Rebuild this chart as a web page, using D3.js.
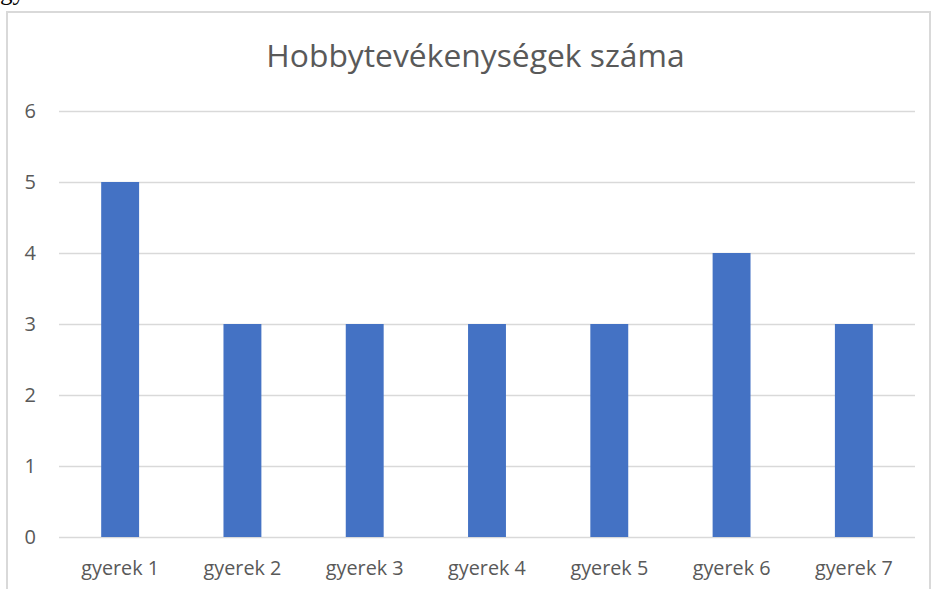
<!DOCTYPE html>
<html>
<head>
<meta charset="utf-8">
<script src="https://cdn.jsdelivr.net/npm/d3@7"></script>
<style>
  body { margin: 0; background: #fff; }
  svg { display: block; font-family: "Open Sans", sans-serif; }
</style>
</head>
<body>
<script>
const categories = ["gyerek 1", "gyerek 2", "gyerek 3", "gyerek 4", "gyerek 5", "gyerek 6", "gyerek 7"];
const values = [5, 3, 3, 3, 3, 4, 3];
const yTicks = [0, 1, 2, 3, 4, 5, 6];
const title = "Hobbytevékenységek száma";

const width = 931, height = 589;
const plot = { left: 59, right: 915, top: 111, bottom: 537 };

const svg = d3.select("body").append("svg")
    .attr("width", width)
    .attr("height", height);

svg.append("rect")
    .attr("width", width).attr("height", height)
    .attr("fill", "#fff");

// cut-off document text above the chart
svg.append("text")
    .attr("x", 0).attr("y", 0)
    .style("font-family", "'Liberation Serif', serif")
    .style("font-size", "25px")
    .attr("fill", "#000")
    .text("gyerekek");

// chart frame
svg.append("rect")
    .attr("x", 7).attr("y", 12)
    .attr("width", 923).attr("height", 620)
    .attr("fill", "#fff")
    .attr("stroke", "#d9d9d9")
    .attr("stroke-width", 2);

const x = d3.scaleBand()
    .domain(categories)
    .range([plot.left, plot.right])
    .paddingInner(0.69)
    .paddingOuter(0.345);

const y = d3.scaleLinear()
    .domain([0, 6])
    .range([plot.bottom, plot.top]);

// gridlines + y labels
const yAxis = svg.append("g")
    .attr("transform", `translate(${plot.left},0)`)
    .call(d3.axisLeft(y)
        .tickValues(yTicks)
        .tickSize(-(plot.right - plot.left))
        .tickPadding(23)
        .tickFormat(d3.format("d")));
yAxis.select(".domain").remove();
yAxis.selectAll(".tick line")
    .attr("stroke", "#d9d9d9")
    .attr("stroke-width", 1.3);
yAxis.selectAll(".tick text")
    .attr("fill", "#595959")
    .style("font-family", "'Open Sans', sans-serif")
    .style("font-size", "20px");

// bars
svg.selectAll("rect.bar")
    .data(values)
    .enter()
    .append("rect")
    .attr("class", "bar")
    .attr("x", (d, i) => x(categories[i]))
    .attr("y", d => y(d))
    .attr("width", x.bandwidth())
    .attr("height", d => y(0) - y(d))
    .attr("fill", "#4472c4");

// x labels
const xAxis = svg.append("g")
    .attr("transform", `translate(0,${plot.bottom})`)
    .call(d3.axisBottom(x).tickSize(0).tickPadding(24));
xAxis.select(".domain").remove();
xAxis.selectAll(".tick text")
    .attr("fill", "#595959")
    .style("font-family", "'Open Sans', sans-serif")
    .style("font-size", "19.8px");

// title
svg.append("text")
    .attr("x", 475.5)
    .attr("y", 67)
    .attr("text-anchor", "middle")
    .attr("fill", "#595959")
    .style("font-size", "31.8px")
    .text(title);
</script>
</body>
</html>
